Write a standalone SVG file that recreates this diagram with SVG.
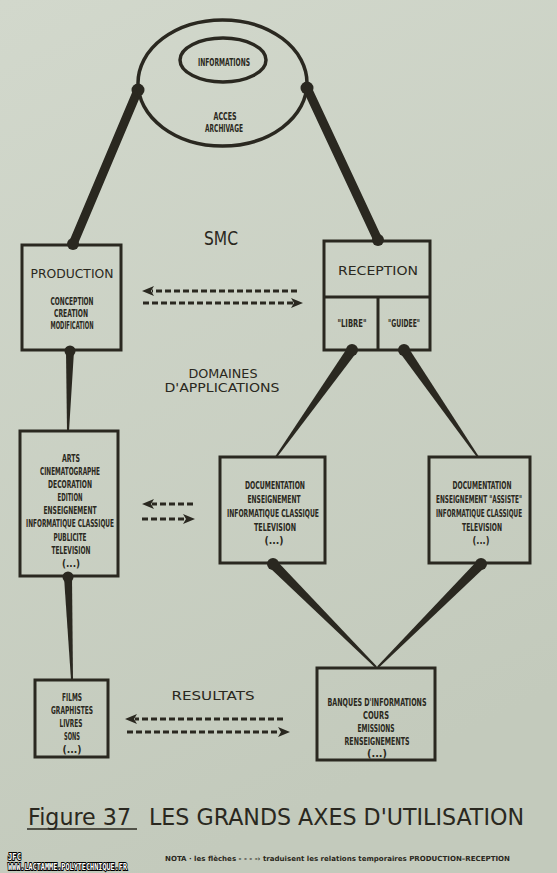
<svg xmlns="http://www.w3.org/2000/svg" width="557" height="873" viewBox="0 0 557 873">
<defs>
<linearGradient id="bg" x1="0" y1="0" x2="0.3" y2="1">
<stop offset="0" stop-color="#d2d8cc"/>
<stop offset="1" stop-color="#c3cabc"/>
</linearGradient>
<marker id="ah" markerUnits="userSpaceOnUse" markerWidth="14" markerHeight="12" refX="2" refY="6" orient="auto">
<path d="M0,1 L12,6 L0,11 L3,6 Z" fill="#2a2820"/>
</marker>
<style>
.box{fill:none;stroke:#2a2820;stroke-width:3}
.ell{fill:none;stroke:#2a2820;stroke-width:3.5}
.t{font-family:"Liberation Sans Narrow","DejaVu Sans Condensed","Liberation Sans",sans-serif;font-size:11px;font-weight:bold;fill:#2a2820;text-anchor:middle}
.h{font-family:"DejaVu Sans","Liberation Sans",sans-serif;font-size:13px;fill:#2a2820;text-anchor:middle}
.big{font-size:19px}
.thick{fill:#2a2820}
.dash{stroke:#2a2820;stroke-width:3;stroke-dasharray:6 3;fill:none;marker-end:url(#ah)}
.wm{font-family:"DejaVu Sans Mono","Liberation Mono",monospace;font-weight:bold;font-size:9px;fill:#ffffff;stroke:#000;stroke-width:2;paint-order:stroke}
</style>
</defs>
<rect width="557" height="873" fill="url(#bg)"/>

<g id="connectors">
<line x1="138" y1="90" x2="73" y2="244" stroke="#2a2820" stroke-width="9" stroke-linecap="round"/>
<circle class="thick" cx="138" cy="90" r="6.5"/>
<circle class="thick" cx="73" cy="244" r="6"/>
<line x1="307" y1="88" x2="378" y2="240" stroke="#2a2820" stroke-width="9" stroke-linecap="round"/>
<circle class="thick" cx="307" cy="88" r="6.5"/>
<circle class="thick" cx="378" cy="240" r="6"/>
<polygon class="thick" points="347.9,347.1 356.1,352.9 276.8,457.6 275.2,456.4"/>
<circle class="thick" cx="352" cy="350" r="6"/>
<polygon class="thick" points="399.9,352.8 408.1,347.2 478.8,456.4 477.2,457.6"/>
<circle class="thick" cx="404" cy="350" r="6"/>
<polygon class="thick" points="66,351 74,351 69,431 67,431"/>
<circle class="thick" cx="70" cy="351" r="5.5"/>
<polygon class="thick" points="64,577 72,577 73,680 71,680"/>
<circle class="thick" cx="68" cy="577" r="5.5"/>
<polygon class="thick" points="269.5,567.5 276.5,560.5 376.7,666.3 375.3,667.7"/>
<circle class="thick" cx="273" cy="564" r="6"/>
<polygon class="thick" points="477.5,560.5 484.5,567.5 378.7,667.7 377.3,666.3"/>
<circle class="thick" cx="481" cy="564" r="6"/>
<line class="dash" x1="297" y1="291" x2="152" y2="291"/>
<line class="dash" x1="143" y1="303" x2="293" y2="303"/>
<line class="dash" x1="193" y1="504" x2="152" y2="504"/>
<line class="dash" x1="142" y1="519" x2="185" y2="519"/>
<line class="dash" x1="283" y1="719" x2="135" y2="719"/>
<line class="dash" x1="127" y1="732" x2="280" y2="732"/>
</g>

<g id="informations">
<ellipse class="ell" cx="222.5" cy="83" rx="84.5" ry="63"/>
<ellipse class="ell" cx="223" cy="60" rx="43" ry="22"/>
<text class="t" x="224" y="66" textLength="52" lengthAdjust="spacingAndGlyphs">INFORMATIONS</text>
<text class="t" x="225" y="120" textLength="23" lengthAdjust="spacingAndGlyphs">ACCES</text>
<text class="t" x="224" y="132" textLength="38" lengthAdjust="spacingAndGlyphs">ARCHIVAGE</text>
</g>

<g id="smc">
<text class="h big" x="221" y="245" textLength="34" lengthAdjust="spacingAndGlyphs">SMC</text>
</g>

<g id="production">
<rect class="box" x="22" y="245" width="99" height="105"/>
<text class="h" x="72" y="278" textLength="83" lengthAdjust="spacingAndGlyphs">PRODUCTION</text>
<text class="t" x="72" y="305" textLength="43" lengthAdjust="spacingAndGlyphs">CONCEPTION</text>
<text class="t" x="71" y="317" textLength="34" lengthAdjust="spacingAndGlyphs">CREATION</text>
<text class="t" x="72" y="329" textLength="43" lengthAdjust="spacingAndGlyphs">MODIFICATION</text>
</g>

<g id="reception">
<rect class="box" x="324" y="241" width="106" height="109"/>
<line class="box" x1="324" y1="297" x2="430" y2="297"/>
<line class="box" x1="378" y1="297" x2="378" y2="350"/>
<text class="h" x="378" y="275" textLength="80" lengthAdjust="spacingAndGlyphs">RECEPTION</text>
<text class="t" x="352" y="327" textLength="29" lengthAdjust="spacingAndGlyphs">"LIBRE"</text>
<text class="t" x="404" y="327" textLength="32" lengthAdjust="spacingAndGlyphs">"GUIDEE"</text>
</g>

<g id="domaines">
<text class="h" x="223" y="378" textLength="69" lengthAdjust="spacingAndGlyphs">DOMAINES</text>
<text class="h" x="222" y="392" textLength="115" lengthAdjust="spacingAndGlyphs">D'APPLICATIONS</text>
</g>

<g id="arts">
<rect class="box" x="20" y="431" width="98" height="145"/>
<text class="t" x="71" y="462" textLength="18" lengthAdjust="spacingAndGlyphs">ARTS</text>
<text class="t" x="70" y="475" textLength="60" lengthAdjust="spacingAndGlyphs">CINEMATOGRAPHE</text>
<text class="t" x="70" y="488" textLength="44" lengthAdjust="spacingAndGlyphs">DECORATION</text>
<text class="t" x="70" y="501" textLength="25" lengthAdjust="spacingAndGlyphs">EDITION</text>
<text class="t" x="70" y="514" textLength="53" lengthAdjust="spacingAndGlyphs">ENSEIGNEMENT</text>
<text class="t" x="70" y="527" textLength="88" lengthAdjust="spacingAndGlyphs">INFORMATIQUE CLASSIQUE</text>
<text class="t" x="70" y="541" textLength="33" lengthAdjust="spacingAndGlyphs">PUBLICITE</text>
<text class="t" x="71" y="554" textLength="39" lengthAdjust="spacingAndGlyphs">TELEVISION</text>
<text class="t" x="71" y="567" textLength="18" lengthAdjust="spacingAndGlyphs">(...)</text>
</g>

<g id="doc-libre">
<rect class="box" x="220" y="457" width="105" height="106"/>
<text class="t" x="275" y="489" textLength="60" lengthAdjust="spacingAndGlyphs">DOCUMENTATION</text>
<text class="t" x="274" y="503" textLength="53" lengthAdjust="spacingAndGlyphs">ENSEIGNEMENT</text>
<text class="t" x="273" y="517" textLength="92" lengthAdjust="spacingAndGlyphs">INFORMATIQUE CLASSIQUE</text>
<text class="t" x="275" y="531" textLength="42" lengthAdjust="spacingAndGlyphs">TELEVISION</text>
<text class="t" x="274" y="544" textLength="19" lengthAdjust="spacingAndGlyphs">(...)</text>
</g>

<g id="doc-guidee">
<rect class="box" x="429" y="457" width="101" height="106"/>
<text class="t" x="482" y="489" textLength="59" lengthAdjust="spacingAndGlyphs">DOCUMENTATION</text>
<text class="t" x="479" y="503" textLength="86" lengthAdjust="spacingAndGlyphs">ENSEIGNEMENT "ASSISTE"</text>
<text class="t" x="479" y="517" textLength="86" lengthAdjust="spacingAndGlyphs">INFORMATIQUE CLASSIQUE</text>
<text class="t" x="482" y="531" textLength="40" lengthAdjust="spacingAndGlyphs">TELEVISION</text>
<text class="t" x="481" y="544" textLength="17" lengthAdjust="spacingAndGlyphs">(...)</text>
</g>

<g id="resultats">
<text class="h" x="213" y="700" textLength="83" lengthAdjust="spacingAndGlyphs">RESULTATS</text>
</g>

<g id="films">
<rect class="box" x="35" y="680" width="73" height="77"/>
<text class="t" x="72" y="701" textLength="20" lengthAdjust="spacingAndGlyphs">FILMS</text>
<text class="t" x="72" y="714" textLength="42" lengthAdjust="spacingAndGlyphs">GRAPHISTES</text>
<text class="t" x="71" y="727" textLength="23" lengthAdjust="spacingAndGlyphs">LIVRES</text>
<text class="t" x="72" y="740" textLength="16" lengthAdjust="spacingAndGlyphs">SONS</text>
<text class="t" x="72" y="753" textLength="19" lengthAdjust="spacingAndGlyphs">(...)</text>
</g>

<g id="banques">
<rect class="box" x="317" y="668" width="118" height="92"/>
<text class="t" x="377" y="706" textLength="99" lengthAdjust="spacingAndGlyphs">BANQUES D'INFORMATIONS</text>
<text class="t" x="376" y="719" textLength="26" lengthAdjust="spacingAndGlyphs">COURS</text>
<text class="t" x="376" y="732" textLength="37" lengthAdjust="spacingAndGlyphs">EMISSIONS</text>
<text class="t" x="377" y="745" textLength="65" lengthAdjust="spacingAndGlyphs">RENSEIGNEMENTS</text>
<text class="t" x="377" y="757" textLength="20" lengthAdjust="spacingAndGlyphs">(...)</text>
</g>

<g id="caption">
<text x="28" y="825" font-family="DejaVu Sans, Liberation Sans, sans-serif" font-size="23" fill="#2a2820" textLength="103" lengthAdjust="spacingAndGlyphs">Figure 37</text>
<line x1="27" y1="829" x2="137" y2="829" stroke="#2a2820" stroke-width="1.5"/>
<text x="149" y="825" font-family="DejaVu Sans, Liberation Sans, sans-serif" font-size="23" fill="#2a2820" textLength="375" lengthAdjust="spacingAndGlyphs">LES GRANDS AXES D'UTILISATION</text>
<text x="165" y="861" font-family="DejaVu Sans Condensed, Liberation Sans, sans-serif" font-size="7" font-weight="bold" fill="#2a2820" textLength="345" lengthAdjust="spacingAndGlyphs">NOTA · les flèches - - - -› traduisent les relations temporaires PRODUCTION–RECEPTION</text>
</g>

<g id="watermark">
<text class="wm" x="8" y="860" textLength="13" lengthAdjust="spacingAndGlyphs">JFC</text>
<text class="wm" x="8" y="870" textLength="119" lengthAdjust="spacingAndGlyphs">WWW.LACTAMME.POLYTECHNIQUE.FR</text>
</g>
</svg>
